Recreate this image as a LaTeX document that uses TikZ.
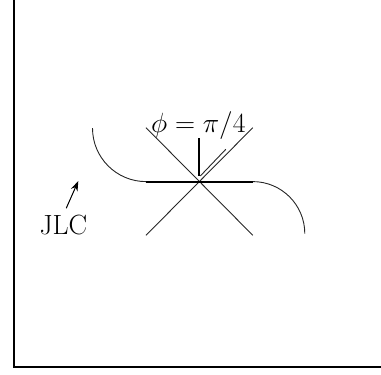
\documentclass[tikz,border=0pt]{standalone}
\usepackage{fix-cm}
\usetikzlibrary{arrows.meta, positioning}

\begin{document}
\begin{tikzpicture}[
  x=1pt, y=1pt,
  frameline/.style={line width=2pt},
  thin line/.style={line width=0.9pt, color=black!85},
  bold line/.style={line width=2pt},
  label/.style={font=\fontsize{27.8}{33}\selectfont, inner sep=0pt, anchor=base},
  arr/.style={-{Stealth[length=10pt, width=7pt]}, line width=1pt}
]
\useasboundingbox (0,0) rectangle (381,375);

% Frame
\coordinate (frametop) at (13.5,375);
\coordinate (framecorner) at (13.5,7.5);
\coordinate (frameright) at (381,7.5);
\draw[frameline] (frametop) -- (framecorner) -- (frameright);

% Crossing point and ends of the cross
\coordinate (centre) at (198.4,193.4);
\coordinate (lefttop) at (146,247.3);
\coordinate (leftbot) at (146,139.7);
\coordinate (righttop) at (252.8,247.3);
\coordinate (rightbot) at (252.8,139.7);
\coordinate (leftjoin) at (146,193.4);
\coordinate (rightjoin) at (252.8,193.4);

\draw[thin line] (lefttop) -- (rightbot);
\draw[thin line] (leftbot) -- (righttop);
\draw[bold line] (leftjoin) -- (rightjoin);

% Curved ends
\draw[thin line] (92.5,246.9) arc (180:270:53.5);
\draw[thin line] (rightjoin) arc (90:0:52);

% Markers above the crossing
\coordinate (stemtop) at (198.6,236.7);
\coordinate (stembot) at (198.6,199);
\coordinate (slantbot) at (200.3,199);
\coordinate (slanttop) at (225.8,225.7);
\draw[bold line] (stemtop) -- (stembot);
\draw[thin line] (slantbot) -- (slanttop);

% Labels
\node[label] (phi) at (198.4,242) {$\phi = \pi/4$};
\node[label] (jlc) at (63.4,140.7) {JLC};
\coordinate (jlctip) at (78.3,194);
\draw[arr, shorten <=7pt] (jlc.north) -- (jlctip);

\end{tikzpicture}
\end{document}
